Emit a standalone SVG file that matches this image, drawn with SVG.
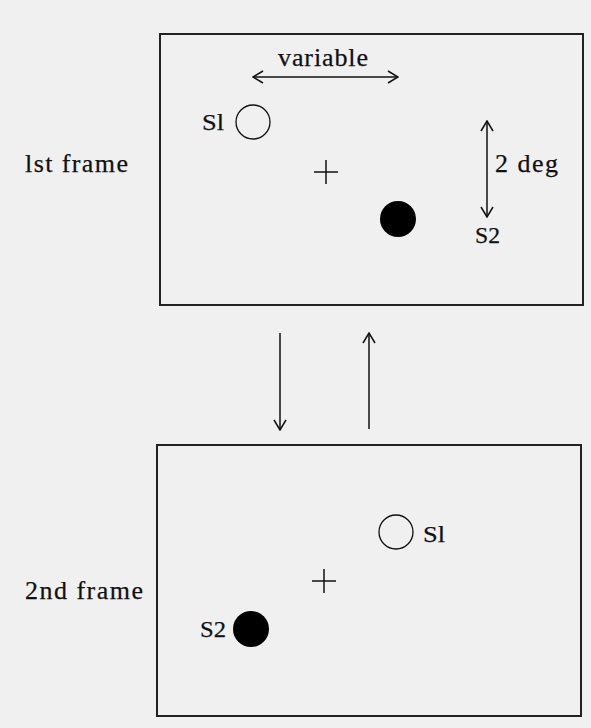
<svg xmlns="http://www.w3.org/2000/svg" width="591" height="728" viewBox="0 0 591 728">
<defs>
<marker id="head" viewBox="0 0 12 14" refX="11" refY="7" markerWidth="12" markerHeight="14" markerUnits="userSpaceOnUse" orient="auto-start-reverse">
<path d="M1,1 L11,7 L1,13" fill="none" stroke="#111" stroke-width="1.5"/>
</marker>
</defs>
<style>
.frame{fill:none;stroke:#222;stroke-width:2}
.t{font-family:"Liberation Serif","Times New Roman",serif;font-size:26px;fill:#111;stroke:#111;stroke-width:0.25}
.s{font-size:24px}
.ln{stroke:#111;stroke-width:1.5;fill:none}
.open{fill:none;stroke:#111;stroke-width:1.3}
.full{fill:#000}
</style>
<rect width="591" height="728" fill="#f0f0f0"/>
<g id="frame1">
<rect class="frame" x="160" y="34" width="423" height="271"/>
<text class="t" x="25" y="172" textLength="103" lengthAdjust="spacing">lst frame</text>
<text class="t" x="278" y="66" textLength="90" lengthAdjust="spacing">variable</text>
<text class="t s" x="202" y="130" textLength="22" lengthAdjust="spacingAndGlyphs">Sl</text>
<circle class="open" cx="253" cy="122" r="17"/>
<path class="ln" d="M314,172 H338 M326,160 V184"/>
<circle class="full" cx="398" cy="219" r="18"/>
<text class="t" x="495" y="172" textLength="63" lengthAdjust="spacing">2 deg</text>
<text class="t s" x="475" y="243" textLength="25" lengthAdjust="spacingAndGlyphs">S2</text>
</g>
<g id="frame2">
<rect class="frame" x="157" y="445" width="424" height="271"/>
<text class="t" x="25" y="599" textLength="118" lengthAdjust="spacing">2nd frame</text>
<circle class="open" cx="396" cy="532" r="17"/>
<text class="t s" x="423" y="542" textLength="22" lengthAdjust="spacingAndGlyphs">Sl</text>
<path class="ln" d="M312,581 H336 M324,569 V593"/>
<circle class="full" cx="251" cy="629" r="18"/>
<text class="t s" x="200" y="637" textLength="26" lengthAdjust="spacingAndGlyphs">S2</text>
</g>
<g id="connectors">
<line class="ln" x1="253" y1="77" x2="398" y2="77" marker-start="url(#head)" marker-end="url(#head)"/>
<line class="ln" x1="487" y1="121" x2="487" y2="217" marker-start="url(#head)" marker-end="url(#head)"/>
<line class="ln" x1="280" y1="333" x2="280" y2="430" marker-end="url(#head)"/>
<line class="ln" x1="369" y1="429" x2="369" y2="333" marker-end="url(#head)"/>
</g>
</svg>
